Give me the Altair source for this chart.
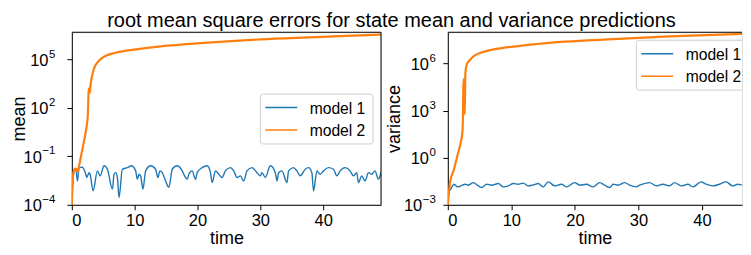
import altair as alt
import pandas as pd

title_text = "root mean square errors for state mean and variance predictions"
models = ["model 1", "model 2"]
colors = ["#1f77b4", "#ff7f0e"]

# ---- left panel: mean ----
mean_t1 = [0.0, 0.15, 0.37, 0.63, 0.90, 1.16, 1.69, 2.22, 2.38, 2.75, 2.91, 3.39, 4.07, 4.50, 5.13,
           5.66, 6.46, 6.72, 6.98, 7.25, 7.51, 8.04, 8.84, 9.47, 10.16, 10.42, 10.69, 10.95, 11.32,
           11.75, 12.54, 13.33, 13.70, 14.02, 14.39, 14.92, 15.45, 15.98, 16.77, 17.57, 17.94, 18.36,
           18.62, 19.15, 19.68, 19.95, 20.74, 21.53, 22.06, 22.33, 22.86, 23.39, 23.92, 24.44, 25.24,
           25.77, 26.30, 26.83, 27.35, 27.88, 28.68, 29.47, 30.00, 30.26, 30.79, 31.59, 32.38, 32.65,
           32.91, 33.44, 34.23, 34.50, 35.29, 35.82, 36.35, 37.14, 37.67, 38.20, 38.47, 39.00, 39.52,
           40.05, 40.85, 41.64, 42.17, 42.70, 43.49, 44.29, 44.81, 45.34, 45.61, 46.14, 46.67, 47.20,
           47.72, 48.25, 48.78, 49.2]
mean_v1 = [1.0e-4, 3.0e-3, 1.26e-2, 1.6e-2, 3.0e-3, 2.0e-2, 2.1e-2, 7.8e-3, 4.9e-3, 9.8e-3, 7.8e-3,
           7.3e-4, 1.26e-2, 6.2e-3, 2.6e-2, 1.6e-2, 9.3e-4, 7.8e-3, 9.8e-3, 4.9e-3, 2.8e-4, 1.6e-2,
           2.0e-2, 2.6e-2, 1.26e-2, 3.8e-3, 7.8e-3, 6.2e-3, 9.3e-4, 1.26e-2, 2.6e-2, 1.6e-2, 4.9e-3,
           1.26e-2, 9.8e-3, 3.0e-3, 1.2e-3, 1.6e-2, 2.6e-2, 1.26e-2, 6.2e-3, 3.8e-3, 7.8e-3, 1.26e-2,
           3.8e-3, 9.8e-3, 2.0e-2, 2.6e-2, 9.8e-3, 2.4e-3, 1.26e-2, 7.8e-3, 4.9e-3, 1.26e-2, 2.0e-2,
           1.26e-2, 4.9e-3, 6.2e-3, 3.0e-3, 1.26e-2, 2.0e-2, 9.8e-3, 6.2e-3, 9.8e-3, 4.9e-3, 2.6e-2,
           9.8e-3, 3.0e-3, 9.8e-3, 1.26e-2, 2.4e-3, 1.26e-2, 2.0e-2, 1.26e-2, 6.2e-3, 1.6e-2, 2.0e-2,
           9.8e-3, 7.3e-4, 1.26e-2, 7.8e-3, 1.26e-2, 2.0e-2, 1.6e-2, 6.2e-3, 1.26e-2, 2.0e-2, 1.26e-2,
           6.2e-3, 9.8e-3, 2.4e-3, 6.2e-3, 3.0e-3, 9.8e-3, 7.8e-3, 1.26e-2, 3.8e-3, 1.0e-2]
mean_t2 = [0.0, 0.25, 0.5, 0.75, 0.95, 1.1, 1.37, 1.9, 2.28, 2.54, 2.62, 2.68, 2.8, 2.88, 2.95,
           3.12, 3.49, 4.29, 5.34, 6.93, 9.9, 15.2, 20.5, 31.1, 41.6, 49.2]
mean_v2 = [1.0e-4, 1.0e-2, 1.78e-2, 1.58e-2, 1.12e-2, 2.0e-2, 6.9e-2, 0.74, 4.9, 32.0, 250.0,
           1585.0, 1410.0, 890.0, 2000.0, 6030.0, 2.51e4, 8.13e4, 1.66e5, 2.63e5, 4.07e5, 7.24e5,
           1.05e6, 1.86e6, 2.69e6, 3.55e6]

# ---- right panel: variance ----
var_t1 = [0.0, 0.3, 0.99, 1.51, 2.04, 2.72, 3.24, 4.02, 4.81, 5.33, 6.12, 6.90, 7.95, 8.73, 9.52,
          10.30, 11.09, 11.87, 12.66, 13.44, 14.23, 15.01, 15.80, 16.84, 17.89, 18.68, 19.98, 20.77,
          21.82, 22.86, 23.91, 24.69, 25.48, 26.0, 26.79, 27.83, 28.62, 29.67, 30.19, 31.76, 32.81,
          33.85, 34.90, 35.68, 36.73, 37.78, 38.56, 39.87, 40.65, 41.70, 42.75, 43.79, 44.84, 45.62,
          46.41, 47.46, 48.7]
var_v1 = [6.0e-3, 8.0e-3, 2.05e-2, 1.39e-2, 1.61e-2, 2.05e-2, 1.78e-2, 2.6e-2, 1.61e-2, 1.26e-2,
          2.05e-2, 1.78e-2, 2.27e-2, 1.39e-2, 1.61e-2, 2.27e-2, 2.05e-2, 2.4e-2, 1.61e-2, 1.86e-2,
          2.27e-2, 1.39e-2, 2.9e-2, 1.61e-2, 2.05e-2, 1.39e-2, 2.6e-2, 1.78e-2, 2.05e-2, 1.39e-2,
          2.6e-2, 1.78e-2, 1.26e-2, 2.05e-2, 1.78e-2, 2.6e-2, 1.78e-2, 1.39e-2, 1.78e-2, 2.6e-2,
          1.61e-2, 2.05e-2, 1.61e-2, 2.6e-2, 1.61e-2, 2.05e-2, 1.39e-2, 2.9e-2, 2.05e-2, 1.61e-2,
          2.05e-2, 2.9e-2, 1.61e-2, 2.05e-2, 1.78e-2, 2.6e-2, 2.0e-2]
var_t2 = [0.0, 0.36, 0.99, 1.51, 2.04, 2.30, 2.40, 2.45, 2.55, 2.66, 2.77, 2.98, 3.35, 4.13, 5.18,
          6.75, 8.7, 13.97, 24.4, 34.9, 47.5, 49.0]
var_v2 = [1.0e-3, 2.75e-2, 0.195, 1.35, 9.55, 41.7, 776.0, 1.0e5, 7.9e4, 603.0, 2.69e5, 9.1e5,
          1.48e6, 3.09e6, 5.0e6, 7.4e6, 1.0e7, 1.78e7, 3.39e7, 5.5e7, 8.1e7, 8.5e7]

mean_ticks = [1e-4, 1e-1, 1e2, 1e5]
mean_exps = ["\u22124", "\u22121", "2", "5"]
var_ticks = [1e-3, 1e0, 1e3, 1e6]
var_exps = ["\u22123", "0", "3", "6"]
x_ticks = [0, 10, 20, 30, 40]

FONT = "Liberation Sans"
H = 173
ONE = pd.DataFrame({"k": [0]})


def panel(t1, v1, t2, v2, width, xmax, ydomain, yticks, yexps, ytitle, title_x, lab_right,
          leg_top, right_spine, extra):
    df = pd.concat([
        pd.DataFrame({"t": t1, "v": v1, "model": models[0]}),
        pd.DataFrame({"t": t2, "v": v2, "model": models[1]}),
    ], ignore_index=True)
    xs = alt.Scale(domain=[0, xmax], nice=False, zero=False)
    ys = alt.Scale(type="log", domain=ydomain, nice=False)
    color = alt.Color("model:N", scale=alt.Scale(domain=models, range=colors), legend=None)

    lines = alt.Chart(df).mark_line(clip=True, interpolate="monotone").encode(
        x=alt.X("t:Q", scale=xs, axis=alt.Axis(
            values=x_ticks, title="time", titleFontSize=18, titleFont=FONT,
            titleFontWeight="normal", titleColor="black", titleY=39,
            titleBaseline="alphabetic", labelFontSize=16.5, labelFont=FONT,
            labelColor="black", labelPadding=3, tickSize=5, tickColor="black",
            tickWidth=1, domain=True, domainColor="black", domainWidth=1,
            grid=False, format="d")),
        y=alt.Y("v:Q", scale=ys, axis=alt.Axis(
            values=yticks, labels=False, title=ytitle, titleFontSize=18,
            titleFont=FONT, titleFontWeight="normal", titleColor="black",
            titleX=title_x, titleY=H / 2, titleAngle=270, titleAlign="center",
            titleBaseline="alphabetic", tickSize=5, tickColor="black", tickWidth=1,
            domain=True, domainColor="black", domainWidth=1, grid=False)),
        color=color,
        strokeWidth=alt.StrokeWidth("model:N", scale=alt.Scale(domain=models, range=[1.4, 2.2]),
                                    legend=None),
        order=alt.Order("t:Q"),
        detail="model:N",
    )

    tdf = pd.DataFrame({"v": yticks, "exp": yexps})
    exp_text = alt.Chart(tdf).mark_text(
        align="right", baseline="alphabetic", fontSize=11.5, font=FONT, color="black", dy=-2
    ).encode(x=alt.value(lab_right), y=alt.Y("v:Q", scale=ys), text="exp:N")
    ten_text = alt.Chart(tdf).transform_calculate(
        xoff=f"{lab_right} - (length(datum.exp) > 1 ? 13.6 : 6.9)"
    ).mark_text(
        align="right", baseline="alphabetic", fontSize=16.5, font=FONT, color="black", dy=6.5
    ).encode(x=alt.X("xoff:Q", scale=None, axis=None), y=alt.Y("v:Q", scale=ys),
             text=alt.value("10"))

    top_spine = alt.Chart(ONE).mark_rule(color="black", strokeWidth=1).encode(
        x=alt.value(0), x2=alt.value(width), y=alt.value(0))
    layers = [lines, exp_text, ten_text, top_spine]
    if right_spine:
        layers.append(alt.Chart(ONE).mark_rule(color="black", strokeWidth=1).encode(
            x=alt.value(width), y=alt.value(0), y2=alt.value(H)))

    box = alt.Chart(ONE).mark_rect(
        fill="white", fillOpacity=0.8, stroke="#cccccc", strokeWidth=1, cornerRadius=3, clip=True
    ).encode(x=alt.value(189), x2=alt.value(302), y=alt.value(leg_top), y2=alt.value(leg_top + 50))
    ldf = pd.DataFrame({"model": models})
    lbase = alt.Chart(ldf).transform_window(rn="row_number()").transform_calculate(
        ly=f"{leg_top + 13.5} + (datum.rn - 1) * 22.5")
    lrule = lbase.mark_rule(strokeWidth=1.5).encode(
        x=alt.value(194), x2=alt.value(226),
        y=alt.Y("ly:Q", scale=None, axis=None), color=color)
    ltext = lbase.mark_text(align="left", baseline="middle", fontSize=15.7, font=FONT,
                            color="black", dy=1).encode(
        x=alt.value(238.5), y=alt.Y("ly:Q", scale=None, axis=None), text="model:N")
    layers += [box, lrule, ltext] + extra
    return alt.layer(*layers).properties(width=width, height=H)


# page frame (relative to the left plot origin) and the figure title
frame = alt.Chart(ONE).mark_rect(fill="white", fillOpacity=0, strokeOpacity=0).encode(
    x=alt.value(-63), x2=alt.value(672), y=alt.value(-23), y2=alt.value(216))
title = alt.Chart(ONE).mark_text(
    align="center", baseline="alphabetic", fontSize=20, font=FONT, color="black"
).encode(x=alt.value(320.5), y=alt.value(-4.9), text=alt.value(title_text))

left = panel(mean_t1, mean_v1, mean_t2, mean_v2, 310, 49.2, [1e-4, 4.9e6], mean_ticks,
             mean_exps, "mean", -47, -16.5, 62, True, [frame, title])
right = panel(var_t1, var_v1, var_t2, var_v2, 295, 46.3, [1e-3, 1e8], var_ticks, var_exps,
              "variance", -48, -12, 8, False, [])

chart = alt.hconcat(left, right, spacing=67, bounds="flush").properties(
    padding={"left": 0, "top": 0, "right": 0, "bottom": 0},
).configure_view(stroke=None).configure(font=FONT, background="white")

chart.save("out.html", embed_options={"renderer": "svg", "actions": False})
